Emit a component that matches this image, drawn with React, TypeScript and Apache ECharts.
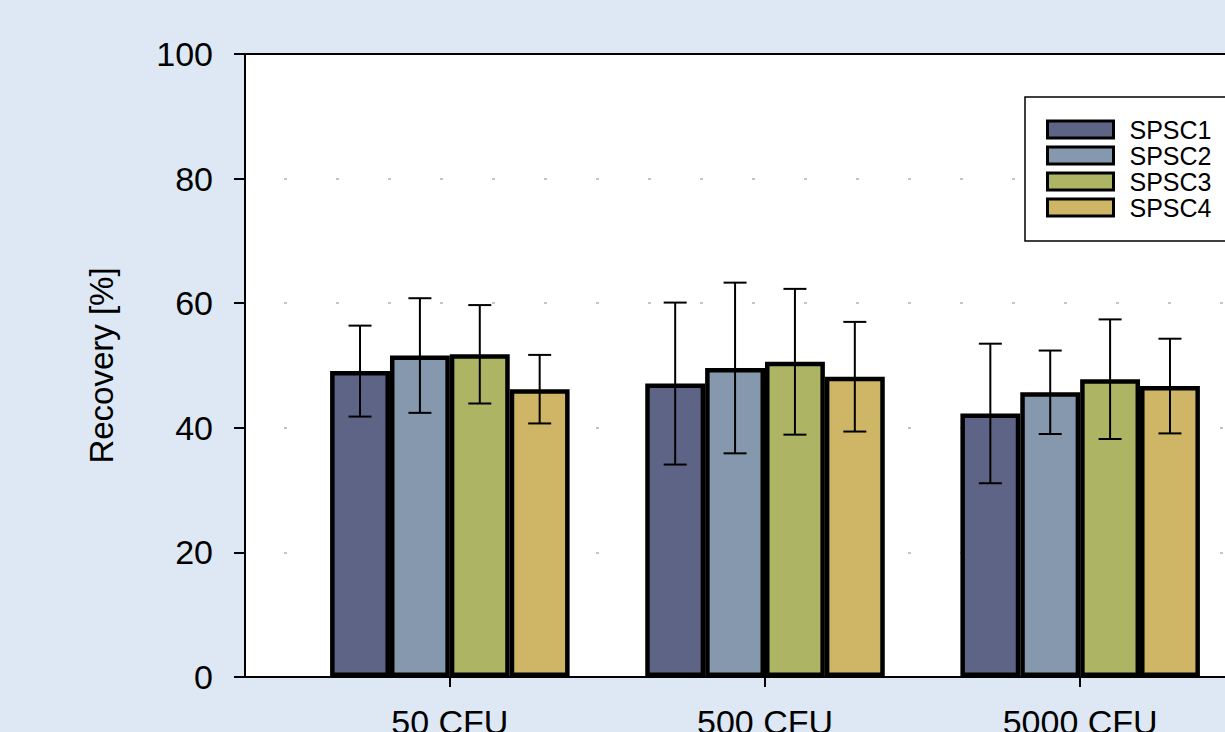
import React, { useEffect, useRef } from "react";
import * as echarts from "echarts";

const categories = ["50 CFU", "500 CFU", "5000 CFU"];
const seriesNames = ["SPSC1", "SPSC2", "SPSC3", "SPSC4"];
const spsc1 = [49.1, 47.1, 42.3];
const spsc2 = [51.6, 49.6, 45.7];
const spsc3 = [51.8, 50.6, 47.8];
const spsc4 = [46.2, 48.2, 46.7];
const err1 = [7.3, 13.0, 11.2];
const err2 = [9.2, 13.7, 6.7];
const err3 = [7.9, 11.7, 9.6];
const err4 = [5.5, 8.8, 7.6];
const yTicks = [0, 20, 40, 60, 80, 100];

const values = [spsc1, spsc2, spsc3, spsc4];
const errors = [err1, err2, err3, err4];
const colors = ["#5e6486", "#8598ad", "#adb565", "#cfb566"];
const CAT_GAP = 0.24;
const FONT = "'Liberation Sans', Arial, sans-serif";

export default function App() {
  const ref = useRef<HTMLDivElement>(null);
  useEffect(() => {
    if (!ref.current) return;
    const chart = echarts.init(ref.current, null, { renderer: "svg" });
    const barSeries = seriesNames.map((name, k) => ({
      name,
      type: "bar",
      data: values[k].map((v, i) => [i, v]),
      barGap: "0%",
      barCategoryGap: CAT_GAP * 100 + "%",
      itemStyle: { color: colors[k], borderColor: "#000", borderWidth: 4.5 },
      z: 2,
    }));
    const errSeries = seriesNames.map((name, k) => ({
      name: name + " error",
      type: "custom",
      data: values[k].map((v, i) => [i, v - errors[k][i], v + errors[k][i]]),
      encode: { x: 0, y: [1, 2] },
      z: 5,
      renderItem: (params: any, api: any) => {
        const x = api.value(0);
        const lo = api.value(1);
        const hi = api.value(2);
        const band = api.size([1, 0])[0];
        const bw = (band * (1 - CAT_GAP)) / 4;
        const cx = api.coord([x, 0])[0] + (k - 1.5) * bw;
        const yLo = api.coord([x, lo])[1];
        const yHi = api.coord([x, hi])[1];
        const cap = 11.5;
        const st = { stroke: "#000", lineWidth: 2 };
        return {
          type: "group",
          children: [
            { type: "line", shape: { x1: cx, y1: yLo, x2: cx, y2: yHi }, style: st },
            { type: "line", shape: { x1: cx - cap, y1: yHi, x2: cx + cap, y2: yHi }, style: st },
            { type: "line", shape: { x1: cx - cap, y1: yLo, x2: cx + cap, y2: yLo }, style: st },
          ],
        };
      },
    }));
    chart.setOption({
      animation: false,
      backgroundColor: "#dde8f4",
      textStyle: { fontFamily: FONT },
      grid: {
        left: 245,
        top: 54,
        right: 35,
        bottom: 83,
        show: true,
        backgroundColor: "#ffffff",
        borderColor: "#000",
        borderWidth: 2,
      },
      legend: {
        data: seriesNames,
        orient: "vertical",
        left: 1025,
        top: 97,
        padding: [20, 34, 21, 21],
        itemWidth: 66,
        itemHeight: 17,
        itemGap: 1,
        icon: "rect",
        borderColor: "#000",
        borderWidth: 1.5,
        backgroundColor: "#ffffff",
        textStyle: { fontSize: 25, color: "#000", fontFamily: FONT, padding: [0, 0, 0, 11] },
        itemStyle: { borderColor: "#000", borderWidth: 3 },
      },
      xAxis: [
        {
          type: "value",
          min: -0.65,
          max: 2.65,
          splitLine: { show: false },
          axisLine: { show: true, lineStyle: { color: "#000", width: 2 } },
          axisTick: {
            show: true,
            customValues: [0, 1, 2],
            length: 10,
            lineStyle: { color: "#000", width: 2 },
          },
          axisLabel: {
            customValues: [0, 1, 2],
            formatter: (v: number) => categories[Math.round(v)] ?? "",
            fontSize: 34,
            color: "#000",
            margin: 28,
            fontFamily: FONT,
          },
        },
        {
          type: "value",
          position: "top",
          min: -0.65,
          max: 2.65,
          z: 6,
          splitLine: { show: false },
          axisLine: { show: true, onZero: false, lineStyle: { color: "#000", width: 2 } },
          axisTick: { show: false },
          axisLabel: { show: false },
        },
      ],
      yAxis: {
        type: "value",
        min: yTicks[0],
        max: yTicks[yTicks.length - 1],
        interval: 20,
        name: "Recovery [%]",
        nameLocation: "middle",
        nameGap: 127,
        nameTextStyle: { fontSize: 33, color: "#000", fontFamily: FONT },
        axisLine: { show: true, onZero: false, lineStyle: { color: "#000", width: 2 } },
        axisTick: { show: true, length: 11, lineStyle: { color: "#000", width: 2 } },
        axisLabel: { fontSize: 34, color: "#000", margin: 32, fontFamily: FONT },
        splitLine: {
          show: true,
          lineStyle: { color: "#c4c4c4", width: 2, type: [3, 49], dashOffset: 13 },
        },
      },
      series: [...barSeries, ...errSeries],
    });
    return () => chart.dispose();
  }, []);
  return (
    <div
      style={{
        position: "fixed",
        left: 0,
        top: 0,
        width: 1225,
        height: 732,
        overflow: "hidden",
        background: "#dde8f4",
      }}
    >
      <div ref={ref} style={{ width: 1320, height: 760 }} />
    </div>
  );
}
